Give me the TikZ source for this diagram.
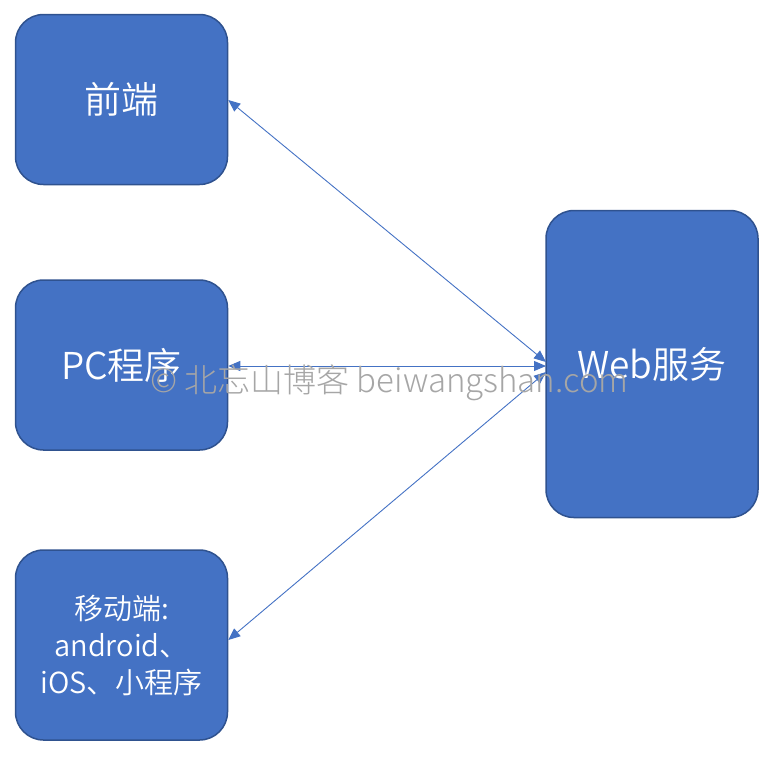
\documentclass[tikz,border=0pt]{standalone}
\usepackage{fontspec}
\setmainfont{Noto Sans CJK SC DemiLight}
\newfontfamily\cjklight{Noto Sans CJK SC Light}
\usetikzlibrary{arrows.meta}
\definecolor{boxfill}{HTML}{4472C4}
\definecolor{boxline}{HTML}{2F528F}
\definecolor{wm}{HTML}{A6A6A6}
\begin{document}
\begin{tikzpicture}[x=1pt,y=-1pt,
  box/.style={draw=boxline, line width=1.5pt, fill=boxfill, rounded corners=28pt, text=white, align=center, inner sep=0pt},
  big/.style={font=\fontsize{37}{42}\selectfont},
  conn/.style={draw=boxfill, line width=0.9pt, {Triangle[length=12pt,width=10pt]}-{Triangle[length=12pt,width=10pt]}}]
\useasboundingbox (0,0) rectangle (783,756);
\node[box, big, minimum width=212pt, minimum height=170pt] (fe) at (121.5,99.5) {前端};
\node[box, big, minimum width=212pt, minimum height=170pt] (pc) at (121.5,365) {PC程序};
\node[box, minimum width=212pt, minimum height=190pt, font=\fontsize{29}{37}\selectfont] (mb) at (121.5,645) {移动端:\\android、\\iOS、小程序};
\node[box, big, minimum width=212pt, minimum height=307pt] (web) at (652,364) {Web服务};
\coordinate (w1) at (546,362);
\coordinate (w2) at (546,366);
\coordinate (w3) at (546,372);
\draw[conn] (fe.east |- 0,100) -- (w1);
\draw[conn] (pc.east |- 0,366) -- (w2);
\draw[conn] (w3) -- (mb.east |- 0,640);
\node[text=wm, font=\cjklight\fontsize{33}{38}\selectfont, anchor=base west, inner sep=0pt] (wmk) at (150,392) {© 北忘山博客 beiwangshan.com};
\end{tikzpicture}
\end{document}
